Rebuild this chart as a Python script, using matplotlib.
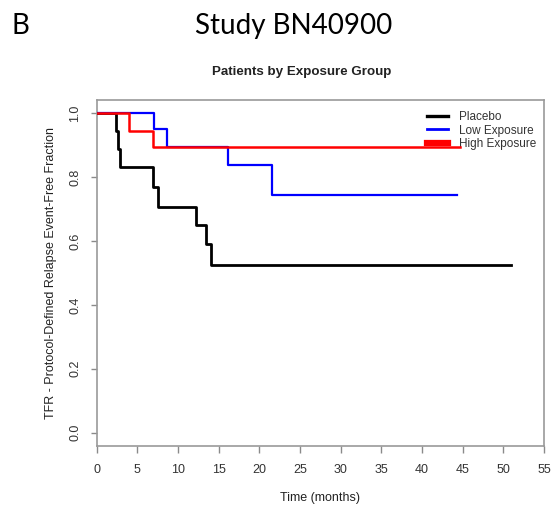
import matplotlib
matplotlib.use("Agg")
import matplotlib.pyplot as plt
from matplotlib.lines import Line2D

# Kaplan-Meier steps
placebo_t = [0, 2.33, 2.58, 2.91, 6.9, 7.6, 12.2, 13.5, 14.05, 51.0]
placebo_s = [1.0, 0.944, 0.889, 0.833, 0.771, 0.708, 0.65, 0.59, 0.525, 0.525]

low_t = [0, 7.05, 8.6, 16.1, 21.6, 44.3]
low_s = [1.0, 0.95, 0.895, 0.84, 0.746, 0.746]

high_t = [0, 4.0, 6.97, 44.7]
high_s = [1.0, 0.945, 0.895, 0.895]

groups = ["Placebo", "Low Exposure", "High Exposure"]
colors = ["black", "#0000ff", "#ff0000"]
xticks = list(range(0, 56, 5))
yticks = [0.0, 0.2, 0.4, 0.6, 0.8, 1.0]

plt.rcParams['font.family'] = ['Liberation Sans', 'DejaVu Sans']

fig = plt.figure(figsize=(5.55, 5.08), dpi=100)
ax = fig.add_axes([0.1742, 0.1226, 0.806, 0.6805])

ax.plot(placebo_t, placebo_s, drawstyle='steps-post', color=colors[0], lw=2.0, zorder=3)
ax.plot(low_t, low_s, drawstyle='steps-post', color=colors[1], lw=1.6, zorder=3)
ax.plot(high_t, high_s, drawstyle='steps-post', color=colors[2], lw=1.8, zorder=4)

ax.set_xlim(0, 55)
ax.set_ylim(-0.041, 1.042)
ax.set_xticks(xticks)
ax.set_yticks(yticks)
ax.set_yticklabels([f"{v:.1f}" for v in yticks], rotation=90, va='center')

for sp in ax.spines.values():
    sp.set_color('#9a9a9a')
    sp.set_linewidth(1.2)
ax.tick_params(axis='x', length=5, width=1, color='#8a8a8a', pad=8, labelsize=9, labelcolor='#333333')
ax.tick_params(axis='y', length=4.5, width=1, color='#8a8a8a', pad=6.5, labelsize=9, labelcolor='#333333')

ax.set_xlabel("Time (months)", fontsize=9, color='#222222', labelpad=12)
ax.set_ylabel("TFR - Protocol-Defined Relapse Event-Free Fraction", fontsize=9, color='#222222', labelpad=9)

handles = [Line2D([], [], color=colors[0], lw=2.4),
           Line2D([], [], color=colors[1], lw=2.0),
           Line2D([], [], color=colors[2], lw=4.5)]
leg = ax.legend(handles, groups, loc='upper left', bbox_to_anchor=(0.738, 0.969),
                frameon=False, fontsize=8.5, handlelength=1.8, handletextpad=0.95,
                labelspacing=0.15, borderaxespad=0, borderpad=0)
for t in leg.get_texts():
    t.set_color('#333333')
leg.set_zorder(2)

fig.text(302 / 555, 1 - 72 / 508, "Patients by Exposure Group", ha='center', va='center',
         fontsize=9.6, fontweight='bold', color='#222222')
fig.text(294 / 555, 1 - 26 / 508, "Study BN40900", ha='center', va='center',
         fontsize=20, family=['Lato', 'DejaVu Sans'], color='black')
fig.text(20 / 555, 1 - 26 / 508, "B", ha='center', va='center',
         fontsize=20, family=['Lato', 'DejaVu Sans'], color='black')

fig.savefig("out.png", dpi=100)
